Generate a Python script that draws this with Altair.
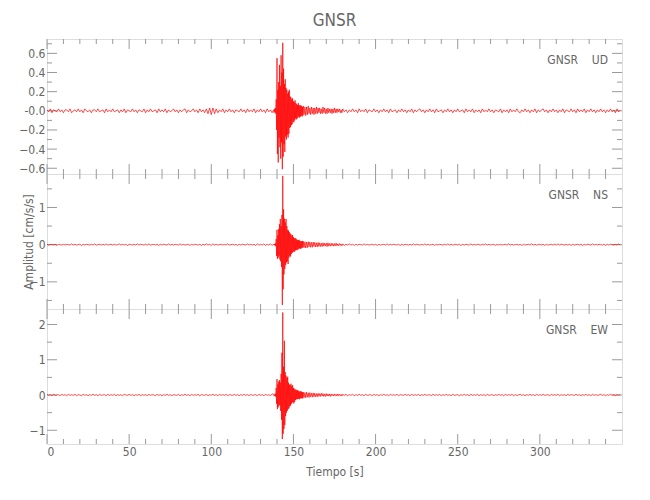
import altair as alt
import pandas as pd

# ---------------- text ----------------
TITLE = "GNSR"
STATION = "GNSR"
COMPONENTS = ["UD", "NS", "EW"]
X_TITLE = "Tiempo [s]"
Y_TITLE = "Amplitud [cm/s/s]"

# ---------------- axes ----------------
X_DOMAIN = [0, 350]
X_MAJOR = [0, 50, 100, 150, 200, 250, 300]
X_MINOR = [10, 20, 30, 40, 60, 70, 80, 90, 110, 120, 130, 140, 160, 170, 180, 190,
           210, 220, 230, 240, 260, 270, 280, 290, 310, 320, 330, 340]

UD_DOMAIN = [-0.66, 0.75]
UD_MAJOR = [-0.6, -0.4, -0.2, 0.0, 0.2, 0.4, 0.6]
UD_MINOR = [-0.5, -0.3, -0.1, 0.1, 0.3, 0.5, 0.7]
NS_DOMAIN = [-1.73, 1.90]
NS_MAJOR = [-1, 0, 1]
NS_MINOR = [-1.5, -0.5, 0.5, 1.5]
EW_DOMAIN = [-1.39, 2.44]
EW_MAJOR = [-1, 0, 1, 2]
EW_MINOR = [-0.5, 0.5, 1.5]

# ---------------- sample times (s) ----------------
T_PRE = list(range(0, 138))                       # 1 s
T_EVT = [138 + 0.25 * i for i in range(72)]       # 0.25 s
T_CODA = [156 + 0.5 * i for i in range(48)]       # 0.5 s
T_POST = list(range(180, 350))                    # 1 s

# ---------------- amplitudes, in 0.01 cm/s/s ----------------
UD_PRE = [1,-1,2,-2,1,0,-1,2,-1,1,
          -2,1,1,-1,2,-2,0,1,-1,2,
          -1,1,-2,2,0,-1,1,-2,1,1,
          -1,2,-1,0,1,-2,2,-1,1,-1,
          2,-1,0,1,-2,1,-1,2,-2,1,
          0,-1,2,-1,1,-2,1,0,-1,2,
          -2,1,-1,2,-1,0,1,-2,2,-1,
          1,-1,2,-2,1,-1,0,2,-1,1,
          -2,1,-1,1,2,-2,1,-1,0,2,
          -1,1,-2,2,-1,1,-2,2,-3,3,
          -4,3,-3,2,-2,1,-1,2,-2,1,
          -1,2,-1,1,-2,1,0,-1,2,-1,
          1,-2,2,-1,1,-1,2,-2,1,-1,
          2,-1,1,-2,2,-1,1,-2]
UD_EVT = [1,-2,2,-1,
          3,-3,12,-20,
          55,-45,22,-54,
          30,-28,48,-38,
          26,-50,58,-33,
          40,-61,71,-48,
          44,-35,28,-43,
          33,-27,24,-30,
          22,-25,18,-28,
          20,-24,22,-18,
          15,-17,14,-15,
          12,-14,13,-11,
          10,-12,9,-10,
          11,-8,8,-9,
          7,-8,6,-7,
          8,-6,6,-7,
          5,-6,6,-5,
          5,-6,4,-5]
UD_CODA = [5,-4, 4,-5, 4,-4, 5,-3, 3,-4, 4,-3, 3,-4, 3,-3, 4,-3, 3,-2, 3,-3, 2,-3,
           4,-2, 3,-3, 2,-3, 3,-2, 2,-2, 2,-3, 2,-2, 3,-2, 2,-2, 2,-1, 2,-2, 1,-2]
UD_POST = [2,-1,1,-2,1,-1,2,-1,1,-2,
           2,-1,1,-1,2,-2,1,0,-1,2,
           -1,1,-2,1,-1,2,-1,1,-2,2,
           -1,0,1,-2,1,-1,2,-1,1,-2,
           1,-1,2,-2,1,-1,1,2,-1,1,
           -2,1,-1,2,-1,1,-2,2,-1,0,
           1,-2,1,-1,2,-1,1,-2,1,-1,
           2,-1,0,1,-2,2,-1,1,-1,2,
           -2,1,-1,1,-2,2,-1,1,-1,2,
           -1,1,-2,1,0,-1,2,-2,1,-1,
           1,-2,2,-1,1,-1,2,-1,-2,1,
           -1,2,-1,1,-2,1,-1,2,-2,1,
           -1,1,2,-1,1,-2,1,-1,2,-1,
           1,-2,1,-1,2,-2,1,0,-1,2,
           -1,1,-2,2,-1,1,-1,2,-2,1,
           -1,2,-1,1,-2,1,-1,2,-1,1,
           -2,1,-1,2,-1,1,-2,2,-1,1]

NS_PRE = [1,-1,0,1,-1,1,-2,1,0,-1,
          1,-1,1,0,-1,2,-1,1,-1,0,
          1,-2,1,-1,1,0,-1,1,-1,2,
          -1,0,1,-1,1,-1,2,-1,0,1,
          -1,1,-1,0,2,-1,1,-1,1,-2,
          1,0,-1,1,-1,2,-1,1,0,-1,
          1,-1,2,-1,0,1,-1,1,-2,1,
          -1,1,0,-1,2,-1,1,-1,1,0,
          -1,2,-1,1,-1,0,1,-2,1,-1,
          1,0,-1,1,-2,1,-1,2,-1,1,
          -2,2,-1,1,-1,0,1,-1,1,-1,
          2,-1,0,1,-1,1,-2,1,-1,1,
          0,-1,2,-1,1,-1,1,-2,2,-1,
          1,-1,2,-2,1,-1,2,-2]
NS_EVT = [1,-1,2,-2,
          3,-4,15,-30,
          40,-38,25,-35,
          42,-30,55,-40,
          69,-45,50,-60,
          80,-162,185,-120,
          95,-80,70,-65,
          60,-55,69,-48,
          50,-45,40,-52,
          38,-35,34,-30,
          30,-32,28,-25,
          24,-22,26,-20,
          20,-18,17,-19,
          18,-15,16,-14,
          14,-15,12,-13,
          12,-11,13,-10,
          10,-11,9,-10,
          9,-8,10,-8]
NS_CODA = [9,-8, 8,-9, 7,-8, 8,-6, 7,-7, 6,-7, 7,-5, 6,-6, 5,-6, 6,-5, 5,-5, 4,-5,
           5,-4, 4,-4, 4,-5, 5,-4, 3,-4, 4,-3, 3,-4, 3,-3, 4,-3, 2,-3, 3,-2, 2,-3]
NS_POST = [2,-2,1,-1,2,-1,1,-2,1,-1,
           1,0,-1,2,-1,1,-1,0,1,-1,
           1,-2,1,-1,0,1,-1,2,-1,1,
           -1,1,0,-1,1,-2,1,-1,1,0,
           -1,1,-1,2,-1,1,0,-1,1,-1,
           2,-1,1,-1,0,1,-2,1,-1,1,
           0,-1,1,-1,2,-1,1,-1,0,1,
           -1,1,-2,1,-1,1,0,-1,2,-1,
           1,-1,1,0,-1,1,-1,2,-1,1,
           -1,0,1,-2,1,-1,1,-1,0,1,
           -1,2,-1,1,-1,0,1,-1,1,-2,
           1,-1,0,1,-1,2,-1,1,-1,0,
           1,-1,1,-2,1,-1,0,1,-1,1,
           -1,2,-1,1,0,-1,1,-1,1,-2,
           1,-1,0,1,-1,1,-2,1,-1,1,
           0,-1,2,-1,1,-1,1,0,-1,1,
           -2,1,-1,1,0,-1,1,-1,2,-1]

EW_PRE = [2,-1,1,-2,2,-1,0,1,-2,2,
          -1,1,-2,2,-1,1,-1,2,-2,1,
          0,-2,2,-1,1,-2,1,-1,2,-1,
          1,-2,2,-1,0,1,-2,2,-1,1,
          -1,2,-2,1,-1,1,-2,2,0,-1,
          2,-1,1,-2,1,-1,2,-2,1,-1,
          1,-2,2,-1,1,0,-2,2,-1,1,
          -2,1,-1,2,-1,1,-2,1,0,-1,
          2,-2,1,-1,2,-1,1,-2,2,-1,
          1,-1,2,-2,1,0,-1,2,-2,1,
          -1,2,-1,1,-2,2,-1,1,-1,2,
          -2,1,0,-1,2,-1,1,-2,1,-1,
          2,-1,1,-2,2,-1,0,1,-2,2,
          -1,1,-2,2,-1,1,-2,3]
EW_EVT = [2,-2,1,-3,
          4,-5,20,-25,
          45,-40,30,-35,
          38,-30,42,-28,
          35,-45,60,-70,
          120,-125,234,-110,
          80,-96,154,-85,
          65,-60,55,-50,
          48,-45,52,-40,
          35,-38,30,-32,
          28,-30,32,-25,
          25,-22,28,-20,
          20,-24,18,-19,
          15,-14,16,-12,
          13,-12,14,-11,
          12,-11,10,-12,
          10,-9,11,-9,
          9,-10,8,-9]
EW_CODA = [8,-7, 7,-8, 8,-6, 6,-7, 7,-5, 5,-6, 6,-5, 5,-5, 4,-5, 5,-4, 4,-4, 5,-3,
           4,-4, 3,-4, 4,-3, 3,-3, 3,-4, 3,-2, 2,-3, 3,-2, 2,-3, 3,-2, 2,-2, 2,-3]
EW_POST = [2,-1,2,-2,1,-1,2,-2,1,-1,
           2,-1,1,-2,2,-1,0,1,-2,2,
           -1,1,-2,1,-1,2,-1,1,-2,2,
           -1,1,-1,2,-2,1,0,-1,2,-1,
           1,-2,2,-1,1,-1,2,-2,1,-1,
           2,-1,0,1,-2,2,-1,1,-1,2,
           -2,1,-1,2,-1,1,-2,2,-1,0,
           1,-2,1,-1,2,-1,1,-2,2,-1,
           1,-1,2,-2,1,-1,1,-2,2,-1,
           0,1,-2,1,-1,2,-1,1,-2,2,
           -1,1,-1,2,-2,1,-1,0,2,-1,
           1,-2,1,-1,2,-1,1,-2,2,-1,
           1,-1,2,-1,0,1,-2,2,-1,1,
           -1,2,-2,1,-1,1,-2,2,-1,1,
           0,-1,2,-1,1,-2,1,-1,2,-1,
           1,-2,2,-1,1,-1,0,2,-1,1,
           -2,1,-1,2,-1,1,-2,1,-1,2]

T_ALL = T_PRE + T_EVT + T_CODA + T_POST
UNIT = 0.01

# ---------------- style ----------------
FONT = "'Liberation Sans Narrow', 'DejaVu Sans Condensed', 'Arial Narrow', sans-serif"
TXT = "#666666"
AX = "#9a9a9a"
RED = "#ff0000"
W, H = 575, 135
MAJ, MIN = 10, 5
NBSP = "\u00a0"


def panel(comp, pre, evt, coda, post, ydom, ymaj, ymin, label_expr, bottom, ytitle, top):
    vals = [v * UNIT for v in (pre + evt + coda + post)]
    df = pd.DataFrame({"t": T_ALL, "v": vals})
    xs = alt.Scale(domain=X_DOMAIN, nice=False, zero=False)
    ys = alt.Scale(domain=ydom, nice=False, zero=False)

    if bottom:
        xaxis = alt.Axis(values=X_MAJOR, ticks=False, tickSize=0, domain=False, grid=False,
                         labelFont=FONT, labelFontSize=12, labelColor=TXT, labelPadding=2,
                         title=X_TITLE, titleFont=FONT, titleFontSize=12, titleFontWeight="normal",
                         titleColor=TXT, titleX=W / 2, titleY=27, titleBaseline="middle",
                         titleAlign="center")
    else:
        xaxis = None

    ykw = dict(values=ymaj, ticks=False, tickSize=0, domain=False, grid=False,
               labelFont=FONT, labelFontSize=12, labelColor=TXT, labelPadding=2,
               labelExpr=label_expr)
    if ytitle:
        ykw.update(title=Y_TITLE, titleFont=FONT, titleFontSize=12, titleFontWeight="normal",
                   titleColor=TXT, titleX=-19, titleY=H / 2, titleBaseline="middle",
                   titleAlign="center", titleAngle=270)
    else:
        ykw.update(title=None)
    yaxis = alt.Axis(**ykw)

    X = alt.X("t:Q", scale=xs, axis=xaxis)
    Y = alt.Y("v:Q", scale=ys, axis=yaxis)

    line = alt.Chart(df).mark_line(color=RED, strokeWidth=0.7, clip=True).encode(x=X, y=Y)

    ymaj_df = pd.DataFrame({"v": ymaj})
    ymin_df = pd.DataFrame({"v": ymin})
    xmaj_df = pd.DataFrame({"t": X_MAJOR})
    xmin_df = pd.DataFrame({"t": X_MINOR})

    def rule(d):
        return alt.Chart(d).mark_rule(color=AX, strokeWidth=1)

    layers = [
        rule(ymaj_df).encode(y=Y, x=alt.value(0), x2=alt.value(MAJ)),
        rule(ymin_df).encode(y=Y, x=alt.value(0), x2=alt.value(MIN)),
        rule(ymaj_df).encode(y=Y, x=alt.value(W), x2=alt.value(W - MAJ)),
        rule(ymin_df).encode(y=Y, x=alt.value(W), x2=alt.value(W - MIN)),
        rule(xmaj_df).encode(x=X, y=alt.value(0), y2=alt.value(MAJ)),
        rule(xmin_df).encode(x=X, y=alt.value(0), y2=alt.value(MIN)),
        rule(xmaj_df).encode(x=X, y=alt.value(H), y2=alt.value(H - MAJ)),
        rule(xmin_df).encode(x=X, y=alt.value(H), y2=alt.value(H - MIN)),
        line,
    ]

    lab_df = pd.DataFrame({"label": [STATION + NBSP * 4 + comp]})
    layers.append(
        alt.Chart(lab_df).mark_text(align="right", baseline="middle", font=FONT, fontSize=12,
                                    color=TXT).encode(x=alt.value(561), y=alt.value(21),
                                                      text="label:N"))
    if top:
        tdf = pd.DataFrame({"label": [TITLE]})
        layers.append(
            alt.Chart(tdf).mark_text(align="center", baseline="middle", font=FONT, fontSize=17,
                                     color=TXT).encode(x=alt.value(W / 2), y=alt.value(-18),
                                                       text="label:N"))
    return alt.layer(*layers).properties(width=W, height=H)


p1 = panel("UD", UD_PRE, UD_EVT, UD_CODA, UD_POST, UD_DOMAIN, UD_MAJOR, UD_MINOR,
           "datum.value == 0 ? '-0.0' : format(datum.value, '.1f')", False, False, True)
p2 = panel("NS", NS_PRE, NS_EVT, NS_CODA, NS_POST, NS_DOMAIN, NS_MAJOR, NS_MINOR,
           "format(datum.value, 'd')", False, True, False)
p3 = panel("EW", EW_PRE, EW_EVT, EW_CODA, EW_POST, EW_DOMAIN, EW_MAJOR, EW_MINOR,
           "format(datum.value, 'd')", True, False, False)

chart = alt.vconcat(p1, p2, p3, spacing=0, bounds="flush").properties(
    padding={"left": 10, "top": 3, "right": 5, "bottom": 5}
).configure_view(stroke=AX, strokeWidth=1).configure(background="white")

chart.save("out.html", embed_options={"renderer": "svg", "actions": False})
